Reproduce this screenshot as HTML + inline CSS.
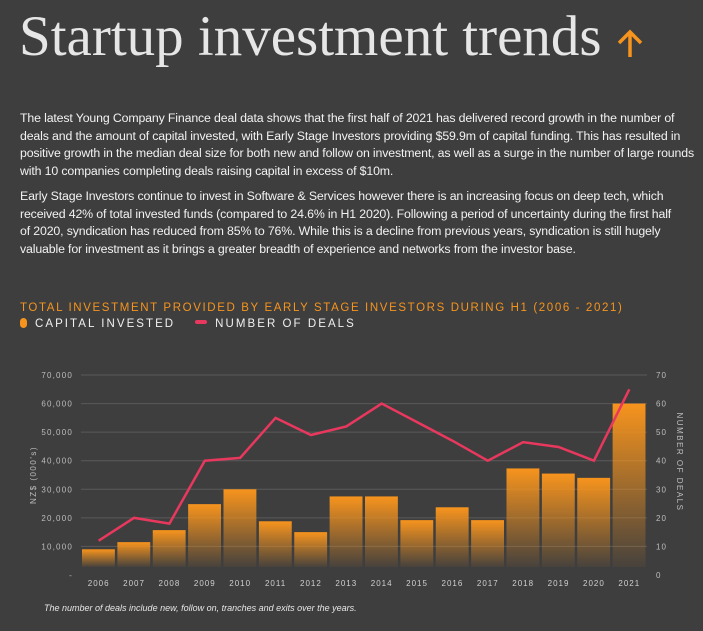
<!DOCTYPE html>
<html><head><meta charset="utf-8"><style>
body{margin:0;width:703px;height:631px;background:#3e3e3e;overflow:hidden;font-family:"Liberation Sans",sans-serif;position:relative}
.abs{position:absolute;white-space:nowrap}
#title{left:19px;top:4px;font-family:"Liberation Serif",serif;font-size:57px;color:#e6e6e6;letter-spacing:0px}
.p{left:20px;color:#f2f2f2;font-size:12.35px;line-height:17.5px;letter-spacing:-0.15px}
#ctitle{left:20px;top:302px;color:#f7941d;font-size:11.5px;letter-spacing:1.62px}
#legend{left:20px;top:318px;color:#f0f0f0;font-size:11.5px;letter-spacing:2.05px}
#foot{left:44px;top:603px;color:#e6e6e6;font-size:9px;font-style:italic}
</style></head><body>
<div id="title" class="abs">Startup investment trends</div>
<svg class="abs" style="left:616px;top:29px" width="30" height="30"><path d="M14 28 V4 M3 14 L14 3 L25 14" fill="none" stroke="#f7941d" stroke-width="3.5"/></svg>
<div class="abs p" style="top:110px">The latest Young Company Finance deal data shows that the first half of 2021 has delivered record growth in the number of<br>deals and the amount of capital invested, with Early Stage Investors providing $59.9m of capital funding. This has resulted in<br>positive growth in the median deal size for both new and follow on investment, as well as a surge in the number of large rounds<br>with 10 companies completing deals raising capital in excess of $10m.</div>
<div class="abs p" style="top:188px">Early Stage Investors continue to invest in Software &amp; Services however there is an increasing focus on deep tech, which<br>received 42% of total invested funds (compared to 24.6% in H1 2020). Following a period of uncertainty during the first half<br>of 2020, syndication has reduced from 85% to 76%. While this is a decline from previous years, syndication is still hugely<br>valuable for investment as it brings a greater breadth of experience and networks from the investor base.</div>
<div id="ctitle" class="abs">TOTAL INVESTMENT PROVIDED BY EARLY STAGE INVESTORS DURING H1 (2006 - 2021)</div>
<div id="legend" class="abs"><span><span style="display:inline-block;width:7px;height:10px;border-radius:5px;background:#f7941d;vertical-align:-1px;margin-right:8px"></span>CAPITAL INVESTED</span><span style="margin-left:20px"><span style="display:inline-block;width:12px;height:4px;border-radius:2px;background:#e8385e;vertical-align:3px;margin-right:8px"></span>NUMBER OF DEALS</span></div>
<svg id="chart" class="abs" style="left:0;top:0" width="703" height="631">
<defs><linearGradient id="bg" x1="0" y1="0" x2="0" y2="1"><stop offset="0" stop-color="#f7941d"/><stop offset="1" stop-color="#f7941d" stop-opacity="0.05"/></linearGradient></defs>
<g id="grid"></g><g id="bars"></g><g id="line"></g><g id="labels"></g>
</svg>
<div id="foot" class="abs">The number of deals include new, follow on, tranches and exits over the years.</div>
<script>
const years=["2006","2007","2008","2009","2010","2011","2012","2013","2014","2015","2016","2017","2018","2019","2020","2021"];
const capital=[9000,11500,15700,24800,30000,18800,15000,27500,27500,19200,23700,19200,37300,35500,34000,60000];
const deals=[12,20,18,40,41,55,49,52,60,53.5,47,40,46.5,44.8,40,65];
const leftTicks=["-","10,000","20,000","30,000","40,000","50,000","60,000","70,000"];
const rightTicks=["0","10","20","30","40","50","60","70"];
const NS="http://www.w3.org/2000/svg";
const X0=81,X1=647,Y0=575,Y70=375;
const yL=v=>Y0-(v/70000)*(Y0-Y70);
const yR=v=>Y0-(v/70)*(Y0-Y70);
const band=(X1-X0)/years.length;
const xC=i=>X0+band*(i+0.5);
function mk(t,a,p){const e=document.createElementNS(NS,t);for(const k in a)e.setAttribute(k,a[k]);p.appendChild(e);return e;}
const G=document.getElementById('grid'),B=document.getElementById('bars'),L=document.getElementById('line'),T=document.getElementById('labels');
leftTicks.forEach((s,i)=>{const y=yL(i*10000);
 if(i>0){const g=mk('line',{x1:X0,x2:X1,y1:y,y2:y,stroke:'#5a5a5a','stroke-width':1},G);
 
 }
 const t=mk('text',{x:73,y:y+3,'text-anchor':'end','font-size':8,fill:'#bdbdbd','letter-spacing':1.2,'font-family':'Liberation Sans'},T);t.textContent=s;
 
 
 const r=mk('text',{x:656,y:y+3,'font-size':8,fill:'#bdbdbd','letter-spacing':1,'font-family':'Liberation Sans'},T);r.textContent=rightTicks[i];
 
 
});
years.forEach((yr,i)=>{const y=yL(capital[i]);
 const r=mk('rect',{x:xC(i)-band/2+1,y:y,width:band-2.5,height:Y0-8-y,fill:'url(#bg)'},B);
 
 
 const t=mk('text',{x:xC(i),y:586,'text-anchor':'middle','font-size':8,fill:'#d0d0d0','letter-spacing':1,'font-family':'Liberation Sans'},T);t.textContent=yr;
 
 
});
const pts=deals.map((d,i)=>xC(i)+','+yR(d)).join(' ');
const pl=mk('polyline',{points:pts,fill:'none',stroke:'#e8385e','stroke-width':2.5,'stroke-linejoin':'miter'},L);


const a1=mk('text',{transform:'translate(36,475) rotate(-90)','text-anchor':'middle','font-size':8,fill:'#bdbdbd','letter-spacing':1.5,'font-family':'Liberation Sans'},T);a1.textContent="NZ$ (000's)";


const a2=mk('text',{transform:'translate(677,462) rotate(90)','text-anchor':'middle','font-size':8,fill:'#bdbdbd','letter-spacing':1.5,'font-family':'Liberation Sans'},T);a2.textContent="NUMBER OF DEALS";


</script>
</body></html>
